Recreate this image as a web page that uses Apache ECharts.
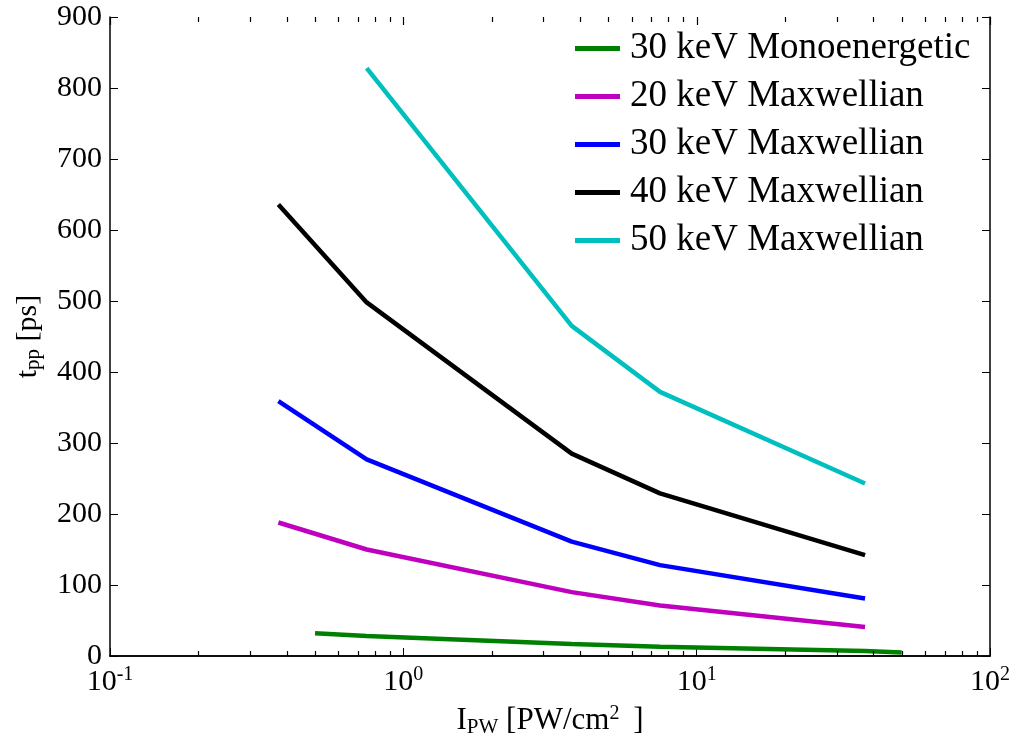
<!DOCTYPE html>
<html>
<head>
<meta charset="utf-8">
<script src="https://cdn.jsdelivr.net/npm/echarts@6/dist/echarts.min.js"></script>
<style>
html,body{margin:0;padding:0;background:#fff;}
#chart{width:1015px;height:744px;}
</style>
</head>
<body>
<div id="chart"></div>
<script>
// ---- data ----
const seriesNames = ['30 keV Monoenergetic', '20 keV Maxwellian', '30 keV Maxwellian', '40 keV Maxwellian', '50 keV Maxwellian'];
const intensityMono = [0.5, 0.75, 3.75, 7.5, 37.5, 50];
const intensityMax = [0.375, 0.75, 3.75, 7.5, 37.5];
const intensity50 = [0.75, 3.75, 7.5, 37.5];
const mono30 = [32, 28, 17, 13, 7, 5];
const max20 = [188, 150, 90, 71, 41];
const max30 = [359, 277, 161, 128, 81];
const max40 = [636, 498, 285, 229, 142];
const max50 = [828, 465, 372, 243];
const xTickValues = [0.1, 1, 10, 100];
const xTickExponents = ['-1', '0', '1', '2'];
const minorTickValues = [0.2,0.3,0.4,0.5,0.6,0.7,0.8,0.9,2,3,4,5,6,7,8,9,20,30,40,50,60,70,80,90];

const colors = ['#008000', '#bf00bf', '#0000ff', '#000000', '#00bfbf'];
const FONT = 'Liberation Serif';

function pairs(xs, ys) { return xs.map((x, i) => [x, ys[i]]); }
const dataSets = [
  pairs(intensityMono, mono30),
  pairs(intensityMax, max20),
  pairs(intensityMax, max30),
  pairs(intensityMax, max40),
  pairs(intensity50, max50)
];

const chart = echarts.init(document.getElementById('chart'));

const supRich = {
  b: { fontFamily: FONT, fontSize: 30, color: '#000' },
  sup: { fontFamily: FONT, fontSize: 20, color: '#000', verticalAlign: 'top', padding: [0, 0, 14, 0] }
};

function xLabel(v) {
  const idx = xTickValues.findIndex(t => Math.abs(Math.log10(t) - Math.log10(v)) < 1e-6);
  if (idx < 0) return '';
  return '{b|10}{sup|' + xTickExponents[idx] + '}';
}

const lineSeries = dataSets.map((d, i) => ({
  name: seriesNames[i],
  type: 'line',
  data: d,
  showSymbol: false,
  symbol: 'none',
  lineStyle: { color: colors[i], width: 4.5 },
  itemStyle: { color: colors[i] },
  xAxisIndex: 0, yAxisIndex: 0,
  z: 3
}));

const axisLineStyle = { show: true, lineStyle: { color: '#000', width: 1.5 } };

const option = {
  backgroundColor: '#fff',
  animation: false,
  grid: { left: 110, right: 25, top: 17, bottom: 88, containLabel: false, outerBoundsMode: 'none' },
  legend: {
    orient: 'vertical',
    left: 570,
    top: 25,
    itemWidth: 45,
    itemHeight: 5,
    itemGap: 11,
    icon: 'rect',
    data: seriesNames,
    textStyle: { fontFamily: FONT, fontSize: 37, color: '#000', padding: [0, 0, 0, 5] }
  },
  xAxis: [
    {
      type: 'log', logBase: 10, min: 0.1, max: 100,
      position: 'bottom',
      axisLine: axisLineStyle,
      axisTick: { show: true, inside: true, length: 8, lineStyle: { color: '#000', width: 1 } },
      splitLine: { show: false },
      axisLabel: { formatter: xLabel, margin: 9, rich: supRich, color: '#000' },
      name: '{b|I}{sub|PW}{b| [PW/cm}{sup|2}{b| ]}',
      nameLocation: 'middle',
      nameGap: 48,
      nameTextStyle: {
        rich: {
          b: { fontFamily: FONT, fontSize: 31, color: '#000' },
          sub: { fontFamily: FONT, fontSize: 21, color: '#000', verticalAlign: 'bottom', padding: [10, 0, 0, 0] },
          sup: { fontFamily: FONT, fontSize: 20, color: '#000', verticalAlign: 'top', padding: [0, 6, 14, 0] }
        }
      }
    },
    {
      type: 'log', logBase: 10, min: 0.1, max: 100,
      position: 'top',
      axisLine: axisLineStyle,
      axisTick: { show: false },
      axisLabel: { show: false },
      splitLine: { show: false }
    }
  ],
  yAxis: [
    {
      type: 'value', min: 0, max: 900, interval: 100,
      position: 'left',
      axisLine: axisLineStyle,
      axisTick: { show: true, inside: true, length: 8, lineStyle: { color: '#000', width: 1 } },
      splitLine: { show: false },
      axisLabel: { fontFamily: FONT, fontSize: 30, color: '#000', margin: 8 },
      name: '{b|t}{sub|pp}{b| [ps]}',
      nameLocation: 'middle',
      nameGap: 66,
      nameTextStyle: {
        rich: {
          b: { fontFamily: FONT, fontSize: 30, color: '#000' },
          sub: { fontFamily: FONT, fontSize: 21, color: '#000', verticalAlign: 'bottom', padding: [10, 0, 0, 0] }
        }
      }
    },
    {
      type: 'value', min: 0, max: 900, interval: 100,
      position: 'right',
      axisLine: axisLineStyle,
      axisTick: { show: true, inside: true, length: 8, lineStyle: { color: '#000', width: 1 } },
      axisLabel: { show: false },
      splitLine: { show: false }
    }
  ],
  series: lineSeries
};

chart.setOption(option);

// minor ticks (bottom & top) and top major ticks, positioned through the axis scales
const yBottom = chart.convertToPixel({ yAxisIndex: 0 }, 0);
const yTop = chart.convertToPixel({ yAxisIndex: 0 }, 900);
const tickEls = [];
function tickPair(v, len) {
  const x = Math.round(chart.convertToPixel({ xAxisIndex: 0 }, v)) + 0.5;
  tickEls.push({ type: 'line', z: 100, shape: { x1: x, y1: yBottom, x2: x, y2: yBottom - len }, style: { stroke: '#000', lineWidth: 1.2 } });
  tickEls.push({ type: 'line', z: 100, shape: { x1: x, y1: yTop, x2: x, y2: yTop + len }, style: { stroke: '#000', lineWidth: 1.2 } });
}
minorTickValues.forEach(v => tickPair(v, 5));
xTickValues.forEach(v => {
  const x = Math.round(chart.convertToPixel({ xAxisIndex: 0 }, v)) + 0.5;
  tickEls.push({ type: 'line', z: 100, shape: { x1: x, y1: yTop, x2: x, y2: yTop + 8 }, style: { stroke: '#000', lineWidth: 1.2 } });
});
chart.setOption({ graphic: tickEls });
</script>
</body>
</html>
